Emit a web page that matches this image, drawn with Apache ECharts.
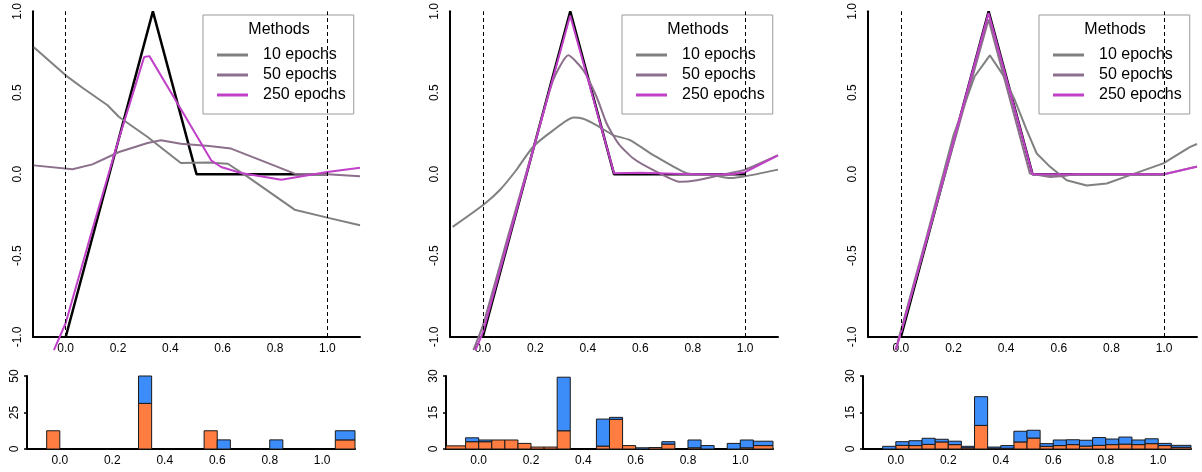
<!DOCTYPE html>
<html>
<head>
<meta charset="utf-8">
<script src="https://cdn.jsdelivr.net/npm/echarts@6/dist/echarts.min.js"></script>
<style>
html,body{margin:0;padding:0;background:#fff;}
#chart{width:1202px;height:472px;}
</style>
</head>
<body>
<div id="chart"></div>
<script>
// ---------- data ----------
const xTicks = [0, 0.2, 0.4, 0.6, 0.8, 1.0];
const seriesNames = ['10 epochs', '50 epochs', '250 epochs'];

// true function
const truth = [[0, -1], [1/3, 1], [0.5, 0], [1.0, 0]];

// panel 1
const p1_e10 = [[-0.122,0.78],[0,0.607],[0.064,0.531],[0.16,0.423],[0.204,0.351],[0.313,0.228],[0.44,0.069],[0.543,0.071],[0.62,0.064],[0.696,-0.017],[0.875,-0.218],[1.0,-0.267],[1.125,-0.314]];
const p1_e50 = [[-0.122,0.054],[0.026,0.030],[0.102,0.060],[0.204,0.136],[0.313,0.191],[0.364,0.208],[0.44,0.187],[0.549,0.173],[0.632,0.157],[0.747,0.085],[0.875,0.003],[1.0,-0.001],[1.125,-0.013]];
const p1_e250 = [[-0.045,-1.08],[0,-0.914],[0.1,-0.35],[0.2,0.2],[0.3,0.72],[0.32,0.725],[0.44,0.40],[0.556,0.085],[0.594,0.044],[0.67,0.007],[0.824,-0.034],[1.0,0.013],[1.125,0.04]];

// panel 2
const p2_e10 = [[-0.115,-0.324],[0,-0.191],[0.064,-0.099],[0.127,0.024],[0.191,0.167],[0.268,0.269],[0.345,0.348],[0.383,0.34],[0.434,0.30],[0.497,0.24],[0.561,0.209],[0.65,0.117],[0.777,0.006],[0.879,-0.007],[0.943,-0.024],[1.0,-0.013],[1.125,0.028]];
const p2_e50 = [[-0.036,-1.08],[0,-0.93],[0.1,-0.36],[0.2,0.2],[0.268,0.577],[0.326,0.73],[0.383,0.638],[0.434,0.474],[0.472,0.311],[0.517,0.188],[0.574,0.096],[0.65,0.025],[0.752,-0.047],[0.816,-0.037],[0.905,-0.006],[1.0,0.028],[1.125,0.116]];
const p2_e250 = [[-0.028,-1.08],[0,-0.975],[0.333,0.975],[0.5,0.005],[0.6,0.008],[0.8,0.0],[0.95,0.0],[1.0,0.012],[1.125,0.115]];

// panel 3
const p3_e10 = [[-0.02,-1.08],[0,-0.96],[0.1,-0.37],[0.2,0.24],[0.28,0.6],[0.338,0.73],[0.389,0.607],[0.433,0.454],[0.478,0.27],[0.516,0.127],[0.567,0.045],[0.63,-0.037],[0.706,-0.07],[0.782,-0.057],[0.871,-0.006],[0.997,0.066],[1.099,0.168],[1.125,0.185]];
const p3_e50 = [[-0.02,-1.08],[0,-0.97],[0.333,0.95],[0.49,0.004],[0.567,-0.017],[0.617,-0.012],[0.66,0.0],[1.0,0.0],[1.125,0.048]];
const p3_e250 = [[-0.02,-1.08],[0,-0.975],[0.333,0.99],[0.5,0.0],[1.0,0.0],[1.125,0.045]];

// histograms (24 bins)
const binEdges = [-0.125,-0.05,0,0.05,0.1,0.15,0.2,0.25,0.3,0.35,0.4,0.45,0.5,0.55,0.6,0.65,0.7,0.75,0.8,0.85,0.9,0.95,1.0,1.05,1.125];
const h1Orange = [0,12.5,0,0,0,0,0,0,31.25,0,0,0,0,12.5,0,0,0,0,0,0,0,0,0,6.25];
const h1Total  = [0,12.5,0,0,0,0,0,0,50,0,0,0,0,12.5,6.25,0,0,0,6.25,0,0,0,0,12.5];
const h2Orange = [1.3,3.0,3.0,3.7,3.7,2.3,0.8,0.8,7.5,0,0,1.2,12.2,1.4,0,0.6,2.0,0,0.5,0,0,0,0.5,1.4];
const h2Total  = [1.3,4.6,3.7,3.7,3.7,2.3,0.8,0.8,29.5,0,0,12.3,13.0,1.4,0.5,0.6,3.0,0,3.7,1.4,0,2.3,3.7,3.2];
const h3Orange = [0,0,1.5,1.4,1.9,2.9,1.8,0.5,9.7,0.3,0.3,2.9,4.5,1.1,1.4,1.8,1.2,1.5,1.8,2.0,1.8,2.2,1.4,0.7];
const h3Total  = [0,1.1,3.0,3.4,4.4,4.0,3.2,1.1,21.5,0.8,1.4,7.3,7.7,2.2,3.7,3.8,3.6,4.7,4.1,4.9,3.7,4.2,2.3,1.5];
const histMax = [50, 30, 30];
const histInterval = [25, 15, 15];

// ---------- styling / layout ----------
const FONT = 'Liberation Sans, Arial, Helvetica, sans-serif';
const colors = {truth:'#000000', e10:'#808080', e50:'#8b6f8b', e250:'#c040c8', orange:'#ff7d41', blue:'#3c8cfa'};
const topGrids = [
  {left:33, top:11, width:327, height:326},
  {left:450, top:11, width:328, height:326},
  {left:868, top:11, width:329, height:326}
];
const histGrids = [
  {left:27, top:376, width:328, height:73},
  {left:446, top:376, width:327, height:73},
  {left:863, top:376, width:328, height:73}
];
const legendLeft = [203, 622, 1039];
const smoothing = [0, 0.2, 0];

const panels = [
  {e10:p1_e10, e50:p1_e50, e250:p1_e250, orange:h1Orange, total:h1Total},
  {e10:p2_e10, e50:p2_e50, e250:p2_e250, orange:h2Orange, total:h2Total},
  {e10:p3_e10, e50:p3_e50, e250:p3_e250, orange:h3Orange, total:h3Total}
];

const grid = [], xAxis = [], yAxis = [], series = [], legend = [], graphic = [];

function xAxisDef(idx){
  return {type:'value', gridIndex:idx, min:-0.125, max:1.125,
    axisLine:{show:true, onZero:false, lineStyle:{color:'#000', width:2}},
    axisTick:{show:false}, splitLine:{show:false},
    axisLabel:{customValues:xTicks, formatter:v=>v.toFixed(1), fontSize:12, fontFamily:FONT, color:'#000', margin:6}};
}

function renderRect(params, api){
  const x0 = api.value(0), x1 = api.value(1), y0 = api.value(2), y1 = api.value(3);
  if (!(y1 > y0)) return null;
  const a = api.coord([x0, y1]);
  const b = api.coord([x1, y0]);
  return {type:'rect', shape:{x:a[0], y:a[1], width:b[0]-a[0], height:b[1]-a[1]},
    style:{fill:api.visual('color'), stroke:'#1a1a1a', lineWidth:1}};
}

panels.forEach((p, i) => {
  // top panel
  const ti = grid.length;
  grid.push(topGrids[i]);
  xAxis.push(xAxisDef(ti));
  yAxis.push({type:'value', gridIndex:ti, min:-1, max:1, interval:0.5,
    axisLine:{show:true, onZero:false, lineStyle:{color:'#000', width:2}},
    axisTick:{show:false}, splitLine:{show:false},
    axisLabel:{rotate:90, formatter:v=>v.toFixed(1), fontSize:12, fontFamily:FONT, color:'#000', margin:9}});
  const lineBase = {type:'line', xAxisIndex:ti, yAxisIndex:ti, showSymbol:false, symbol:'none', clip:false, animation:false, silent:true};
  series.push(Object.assign({}, lineBase, {name:'truth', data:truth, lineStyle:{color:colors.truth, width:2.5}, itemStyle:{color:colors.truth},
    markLine:{silent:true, symbol:['none','none'], label:{show:false}, animation:false,
      lineStyle:{type:[4,3], color:'#000', width:1}, data:[{xAxis:0},{xAxis:1}]}}));
  series.push(Object.assign({}, lineBase, {name:seriesNames[0], data:p.e10, smooth:smoothing[i], lineStyle:{color:colors.e10, width:2}, itemStyle:{color:colors.e10}}));
  series.push(Object.assign({}, lineBase, {name:seriesNames[1], data:p.e50, smooth:smoothing[i], lineStyle:{color:colors.e50, width:2}, itemStyle:{color:colors.e50}}));
  series.push(Object.assign({}, lineBase, {name:seriesNames[2], data:p.e250, lineStyle:{color:colors.e250, width:2}, itemStyle:{color:colors.e250}}));

  legend.push({data:seriesNames, orient:'vertical', left:legendLeft[i], top:15,
    padding:[32,8,11,14], itemGap:4, itemWidth:31, itemHeight:3, icon:'rect',
    backgroundColor:'#fff', borderColor:'#9a9a9a', borderWidth:1, selectedMode:false,
    textStyle:{fontSize:16, fontFamily:FONT, color:'#000', padding:[0,0,0,10], lineHeight:16}});
  graphic.push({type:'text', x:legendLeft[i]+76, y:30, z:100,
    style:{text:'Methods', fontSize:16, fontFamily:FONT, fill:'#000', align:'center', verticalAlign:'middle'}});

  // histogram
  const hi = grid.length;
  grid.push(histGrids[i]);
  xAxis.push(xAxisDef(hi));
  yAxis.push({type:'value', gridIndex:hi, min:0, max:histMax[i], interval:histInterval[i],
    axisLine:{show:true, onZero:false, lineStyle:{color:'#000', width:2}},
    axisTick:{show:true, length:3, lineStyle:{color:'#000', width:1.5}}, splitLine:{show:false},
    axisLabel:{rotate:90, fontSize:12, fontFamily:FONT, color:'#000', margin:6}});
  const orangeData = p.orange.map((v, k) => [binEdges[k], binEdges[k+1], 0, v]);
  const blueData = p.total.map((v, k) => [binEdges[k], binEdges[k+1], p.orange[k], v]);
  series.push({type:'custom', name:'hist-orange-'+i, xAxisIndex:hi, yAxisIndex:hi, renderItem:renderRect,
    encode:{x:[0,1], y:[2,3]}, data:orangeData, itemStyle:{color:colors.orange}, animation:false, silent:true});
  series.push({type:'custom', name:'hist-blue-'+i, xAxisIndex:hi, yAxisIndex:hi, renderItem:renderRect,
    encode:{x:[0,1], y:[2,3]}, data:blueData, itemStyle:{color:colors.blue}, animation:false, silent:true});
});

const chart = echarts.init(document.getElementById('chart'), null, {renderer:'canvas'});
chart.setOption({
  backgroundColor:'#fff',
  animation:false,
  textStyle:{fontFamily:FONT},
  grid, xAxis, yAxis, series, legend, graphic
});
</script>
</body>
</html>
